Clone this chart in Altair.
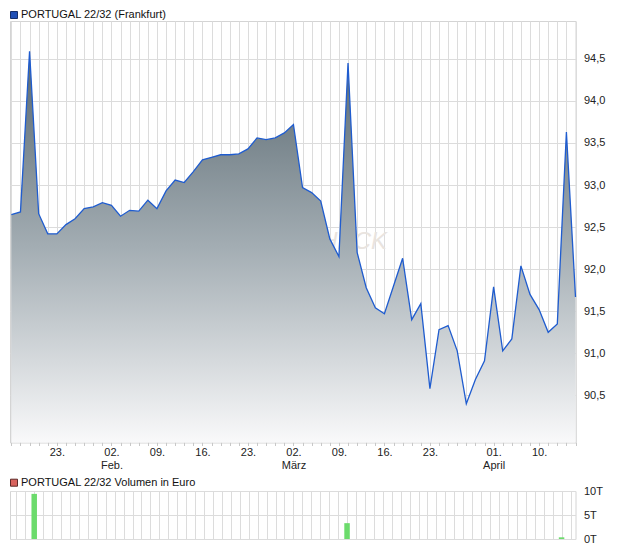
import json
import altair as alt
import pandas as pd

# ---------------- data ----------------
days = [
    "2026-01-16", "2026-01-19", "2026-01-20", "2026-01-21", "2026-01-22", "2026-01-23",
    "2026-01-26", "2026-01-27", "2026-01-28", "2026-01-29", "2026-01-30",
    "2026-02-02", "2026-02-03", "2026-02-04", "2026-02-05", "2026-02-06",
    "2026-02-09", "2026-02-10", "2026-02-11", "2026-02-12", "2026-02-13",
    "2026-02-16", "2026-02-17", "2026-02-18", "2026-02-19", "2026-02-20",
    "2026-02-23", "2026-02-24", "2026-02-25", "2026-02-26", "2026-02-27",
    "2026-03-02", "2026-03-03", "2026-03-04", "2026-03-05", "2026-03-06",
    "2026-03-09", "2026-03-10", "2026-03-11", "2026-03-12", "2026-03-13",
    "2026-03-16", "2026-03-17", "2026-03-18", "2026-03-19", "2026-03-20",
    "2026-03-23", "2026-03-24", "2026-03-25", "2026-03-26", "2026-03-27",
    "2026-03-30", "2026-03-31",
    "2026-04-01", "2026-04-02", "2026-04-07", "2026-04-08", "2026-04-09",
    "2026-04-10", "2026-04-13", "2026-04-14", "2026-04-15", "2026-04-16",
]
prices = [
    92.65, 92.68, 94.59, 92.66, 92.42, 92.42,
    92.53, 92.60, 92.72, 92.74, 92.79,
    92.76, 92.63, 92.70, 92.69, 92.82,
    92.72, 92.93, 93.06, 93.03, 93.16,
    93.30, 93.33, 93.36, 93.36, 93.37,
    93.43, 93.56, 93.54, 93.56, 93.62,
    93.72, 92.97, 92.91, 92.81, 92.36,
    92.15, 94.45, 92.20, 91.78, 91.54,
    91.47, 91.80, 92.13, 91.40, 91.59,
    90.58, 91.28, 91.33, 91.03, 90.40,
    90.69, 90.91,
    91.79, 91.03, 91.17, 92.04, 91.70,
    91.52, 91.25, 91.35, 93.63, 91.67,
]
vol_days = ["2026-01-20", "2026-03-10", "2026-04-15"]
vol_values = [9400, 3300, 350]

tick_days = ["2026-01-23", "2026-02-02", "2026-02-09", "2026-02-16", "2026-02-23",
             "2026-03-02", "2026-03-09", "2026-03-16", "2026-03-23", "2026-04-01",
             "2026-04-10"]
tick_labels = ["23.", "02.\nFeb.", "09.", "16.", "23.", "02.\nMärz", "09.", "16.",
               "23.", "01.\nApril", "10."]
price_ticks = [90.5, 91.0, 91.5, 92.0, 92.5, 93.0, 93.5, 94.0, 94.5]
vol_ticks = [0, 5000, 10000]

title_main = "PORTUGAL 22/32 (Frankfurt)"
title_vol = "PORTUGAL 22/32 Volumen in Euro"

# ---------------- tables ----------------
df = pd.DataFrame({"day": days, "i": list(range(len(days))), "price": prices})
vdf = pd.DataFrame({"i": [days.index(d) for d in vol_days], "vol": vol_values})

expr = ""
for d, lab in zip(tick_days, tick_labels):
    expr += f"datum.value == {days.index(d)} ? {json.dumps(lab.split(chr(10)), ensure_ascii=False)} : "
expr += "''"

W = 565.5
H1 = 421.5
H2 = 48
FONT = "Liberation Sans"
GRID = "#dcdcdc"

xscale = alt.Scale(domain=[-0.15, len(days) - 1], nice=False, zero=False)
all_idx = list(range(len(days)))

x_main = alt.X("i:Q", scale=xscale, title=None,
               axis=alt.Axis(values=all_idx, grid=True, gridColor=GRID, tickSize=3,
                             tickColor="#c8c8c8", domain=False, labelExpr=expr,
                             labelOverlap=False, labelFlush=False, labelPadding=1,
                             labelLineHeight=13, labelFont=FONT, labelFontSize=11,
                             labelColor="#222222"))
y_main = alt.Y("price:Q", scale=alt.Scale(domain=[89.94, 94.95], nice=False, zero=False),
               title=None, stack=None,
               axis=alt.Axis(orient="right", values=price_ticks, grid=True, gridColor=GRID,
                             ticks=False, domain=False, labelPadding=8, labelFlush=False,
                             labelExpr="replace(format(datum.value, '.1f'), '.', ',')",
                             labelFont=FONT, labelFontSize=11, labelColor="#222222"))

gradient = alt.Gradient(
    gradient="linear",
    stops=[alt.GradientStop(color="#58676f", offset=0),
           alt.GradientStop(color="#a3adb3", offset=0.5),
           alt.GradientStop(color="#f9f9fa", offset=1)],
    x1=1, x2=1, y1=0, y2=1,
)

base = alt.Chart(df)
watermark = alt.Chart(pd.DataFrame({"t": ["CHECK"]})).mark_text(
    fontSize=24, fontStyle="italic", font=FONT, color="#e9e4df", align="center",
    baseline="middle"
).encode(text="t:N", x=alt.value(335), y=alt.value(221))
area = base.mark_area(color=gradient).encode(x=x_main, y=y_main, y2=alt.value(H1))
line = base.mark_line(color="#1f5ccf", strokeWidth=1.3).encode(x=x_main, y=y_main)

leg1_rect = alt.Chart(pd.DataFrame({"t": [title_main]})).mark_rect(
    color="#1f4fb6", stroke="#152f6b", strokeWidth=1
).encode(x=alt.value(0.5), x2=alt.value(7.5), y=alt.value(-9.5), y2=alt.value(-2.5))
leg1_text = alt.Chart(pd.DataFrame({"t": [title_main]})).mark_text(
    align="left", baseline="middle", font=FONT, fontSize=11, color="#111111"
).encode(text="t:N", x=alt.value(11), y=alt.value(-6))

main = alt.layer(watermark, area, line, leg1_rect, leg1_text).properties(width=W, height=H1)

x_vol = alt.X("i:Q", scale=xscale, title=None,
              axis=alt.Axis(values=all_idx, grid=True, gridColor=GRID, ticks=False,
                            labels=False, domain=False))
y_vol = alt.Y("vol:Q", scale=alt.Scale(domain=[0, 10000], nice=False), title=None,
              axis=alt.Axis(orient="right", values=vol_ticks, grid=True, gridColor=GRID,
                            ticks=False, domain=False, labelPadding=8, labelFlush=False,
                            labelExpr="format(datum.value / 1000, 'd') + 'T'",
                            labelFont=FONT, labelFontSize=11, labelColor="#222222"))
bars = alt.Chart(vdf).mark_bar(size=5.5, color="#6cdb6c").encode(x=x_vol, y=y_vol)
leg2_rect = alt.Chart(pd.DataFrame({"t": [title_vol]})).mark_rect(
    color="#d8635e", stroke="#5e2a28", strokeWidth=1
).encode(x=alt.value(0.5), x2=alt.value(7.5), y=alt.value(-11.8), y2=alt.value(-4.8))
leg2_text = alt.Chart(pd.DataFrame({"t": [title_vol]})).mark_text(
    align="left", baseline="middle", font=FONT, fontSize=11, color="#111111"
).encode(text="t:N", x=alt.value(11), y=alt.value(-8.3))

vol = alt.layer(bars, leg2_rect, leg2_text).properties(width=W, height=H2)

chart = alt.vconcat(main, vol, spacing=5).properties(padding=0).configure_view(
    stroke="#d4d4d4", strokeWidth=1
)

chart.save("out.html", embed_options={"renderer": "svg", "actions": False})
